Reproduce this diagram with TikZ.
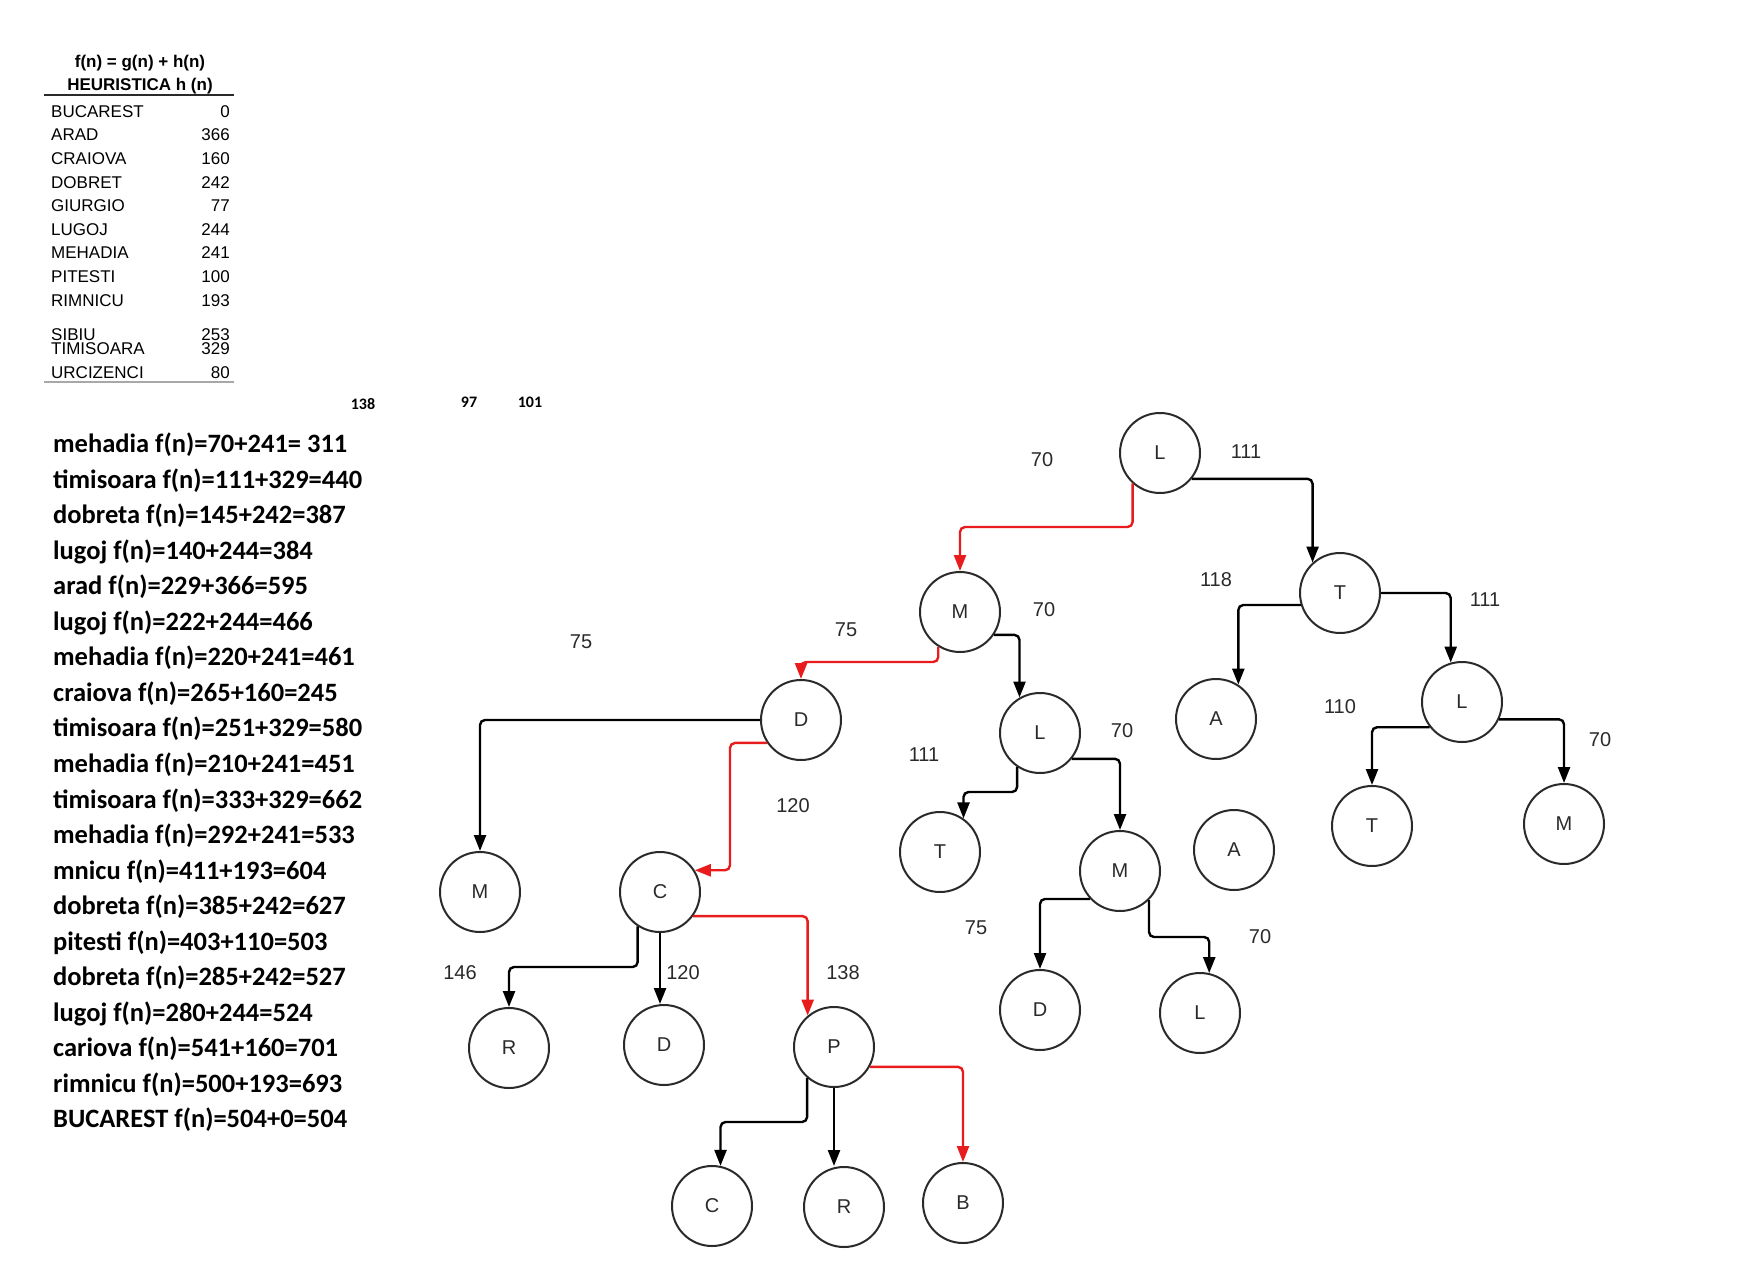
\documentclass[tikz,border=0pt]{standalone}
\usepackage{fontspec}
\setmainfont{Liberation Sans}
\newfontfamily\calib{Carlito}
\usetikzlibrary{arrows.meta}
\definecolor{ink}{HTML}{2A2A2A}
\definecolor{redline}{RGB}{232,28,28}
\definecolor{rule}{HTML}{A8A8A8}
\begin{document}
\begin{tikzpicture}[x=1pt,y=-1pt,
  city/.style={circle,draw=ink,line width=2pt,minimum size=80pt,inner sep=0pt,
    font=\fontsize{20}{24}\selectfont,text=ink},
  edge/.style={line width=2.4pt,rounded corners=5pt,-{Triangle[length=16pt,width=12pt]}},
  redge/.style={edge,draw=redline,color=redline},
  lab/.style={font=\fontsize{20}{24}\selectfont,text=ink,inner sep=0pt},
  tab/.style={font=\fontsize{17}{20}\selectfont,inner sep=0pt},
  tabb/.style={font=\fontsize{17}{20}\selectfont\bfseries,inner sep=0pt},
  fl/.style={font=\calib\bfseries\fontsize{26.5}{32}\selectfont,inner sep=0pt,anchor=base west},
  top/.style={font=\calib\bfseries\fontsize{16}{19}\selectfont,inner sep=0pt,anchor=base}]
\useasboundingbox (0,0) rectangle (1760,1287);

% heuristic table
\node[tabb,anchor=base] (h1) at (140,68) {f(n) = g(n) + h(n)};
\node[tabb,anchor=base] (h2) at (140,91) {HEURISTICA h (n)};
\draw[line width=2pt,ink] (44,95) -- (234,95);
\node[tab,anchor=base west] (n1) at (51,117.3) {BUCAREST};
\node[tab,anchor=base east] (v1) at (230,117.3) {0};
\node[tab,anchor=base west] (n2) at (51,140.9) {ARAD};
\node[tab,anchor=base east] (v2) at (230,140.9) {366};
\node[tab,anchor=base west] (n3) at (51,164.5) {CRAIOVA};
\node[tab,anchor=base east] (v3) at (230,164.5) {160};
\node[tab,anchor=base west] (n4) at (51,188.1) {DOBRET};
\node[tab,anchor=base east] (v4) at (230,188.1) {242};
\node[tab,anchor=base west] (n5) at (51,211.7) {GIURGIO};
\node[tab,anchor=base east] (v5) at (230,211.7) {77};
\node[tab,anchor=base west] (n6) at (51,235.3) {LUGOJ};
\node[tab,anchor=base east] (v6) at (230,235.3) {244};
\node[tab,anchor=base west] (n7) at (51,258.9) {MEHADIA};
\node[tab,anchor=base east] (v7) at (230,258.9) {241};
\node[tab,anchor=base west] (n8) at (51,282.5) {PITESTI};
\node[tab,anchor=base east] (v8) at (230,282.5) {100};
\node[tab,anchor=base west] (n9) at (51,306.1) {RIMNICU};
\node[tab,anchor=base east] (v9) at (230,306.1) {193};
\node[tab,anchor=base west] (n10) at (51,340.5) {SIBIU};
\node[tab,anchor=base east] (v10) at (230,340.5) {253};
\node[tab,anchor=base west] (n11) at (51,354.5) {TIMISOARA};
\node[tab,anchor=base east] (v11) at (230,354.5) {329};
\node[tab,anchor=base west] (n12) at (51,378.2) {URCIZENCI};
\node[tab,anchor=base east] (v12) at (230,378.2) {80};
\draw[line width=2pt,rule] (44,382) -- (234,382);

% top numbers
\node[top] (t138) at (363,409) {138};
\node[top] (t97) at (469,407) {97};
\node[top] (t101) at (530,407) {101};

% f(n) list
\node[fl] (f0) at (53,452.5) {mehadia f(n)=70+241= 311};
\node[fl] (f1) at (53,488.05) {timisoara f(n)=111+329=440};
\node[fl] (f2) at (53,523.6) {dobreta f(n)=145+242=387};
\node[fl] (f3) at (53,559.15) {lugoj f(n)=140+244=384};
\node[fl] (f4) at (53,594.7) {arad f(n)=229+366=595};
\node[fl] (f5) at (53,630.25) {lugoj f(n)=222+244=466};
\node[fl] (f6) at (53,665.8) {mehadia f(n)=220+241=461};
\node[fl] (f7) at (53,701.35) {craiova f(n)=265+160=245};
\node[fl] (f8) at (53,736.9) {timisoara f(n)=251+329=580};
\node[fl] (f9) at (53,772.45) {mehadia f(n)=210+241=451};
\node[fl] (f10) at (53,808) {timisoara f(n)=333+329=662};
\node[fl] (f11) at (53,843.55) {mehadia f(n)=292+241=533};
\node[fl] (f12) at (53,879.1) {mnicu f(n)=411+193=604};
\node[fl] (f13) at (53,914.65) {dobreta f(n)=385+242=627};
\node[fl] (f14) at (53,950.2) {pitesti f(n)=403+110=503};
\node[fl] (f15) at (53,985.75) {dobreta f(n)=285+242=527};
\node[fl] (f16) at (53,1021.3) {lugoj f(n)=280+244=524};
\node[fl] (f17) at (53,1056.85) {cariova f(n)=541+160=701};
\node[fl] (f18) at (53,1092.4) {rimnicu f(n)=500+193=693};
\node[fl] (f19) at (53,1127.95) {BUCAREST f(n)=504+0=504};

% tree nodes
\node[city] (L1) at (1160,453) {L};
\node[city] (M1) at (960,612) {M};
\node[city] (T1) at (1340,593) {T};
\node[city] (D1) at (801,720) {D};
\node[city] (L2) at (1040,733) {L};
\node[city] (A1) at (1216,719) {A};
\node[city] (L3) at (1462,702) {L};
\node[city] (M2) at (480,892) {M};
\node[city] (C1) at (660,892) {C};
\node[city] (T2) at (940,852) {T};
\node[city] (M3) at (1120,871) {M};
\node[city] (A2) at (1234,850) {A};
\node[city] (T3) at (1372,826) {T};
\node[city] (M4) at (1564,824) {M};
\node[city] (R1) at (509,1048) {R};
\node[city] (D2) at (664,1045) {D};
\node[city] (P1) at (834,1047) {P};
\node[city] (D3) at (1040,1010) {D};
\node[city] (L4) at (1200,1013) {L};
\node[city] (C2) at (712,1206) {C};
\node[city] (R2) at (844,1207) {R};
\node[city] (B1) at (963,1203) {B};

% bend helpers
\coordinate (y527) at (0,527);
\coordinate (y662) at (0,662);
\coordinate (x730) at (730,0);
\coordinate (y967) at (0,967);
\coordinate (y1122) at (0,1122);
\coordinate (y792) at (0,792);
\coordinate (y937) at (0,937);

% connectors
\draw[redge] (L1.228) -- (L1.228 |- y527) -| (M1.north);
\draw[edge] (L1.321) -| (T1.132);
\draw[redge] (M1.238) -- (M1.238 |- y662) -| (D1.north);
\draw[edge] (M1.326) -| (L2.120);
\draw[edge] (D1.west) -| (M2.north);
\draw[redge] (D1.214) -| (x730 |- C1.32) -- (C1.32);
\draw[edge] (C1.237) -- (C1.237 |- y967) -| (R1.north);
\draw[edge] (C1.south) -- (C1.south |- D2.north);
\draw[redge] (C1.324) -| (P1.130);
\draw[edge] (P1.229) -- (P1.229 |- y1122) -| (C2.78);
\draw[edge] (P1.south) -- (P1.south |- R2.north);
\draw[redge] (P1.331) -| (B1.north);
\draw[edge] (L2.236) -- (L2.236 |- y792) -| (T2.55);
\draw[edge] (L2.321) -| (M3.north);
\draw[edge] (T1.197) -| (A1.57);
\draw[edge] (T1.east) -| (L3.106);
\draw[edge] (L3.218) -| (T3.north);
\draw[edge] (L3.335) -| (M4.north);
\draw[edge] (M3.223) -| (D3.north);
\draw[edge] (M3.315) -- (M3.315 |- y937) -| (L4.77);

% edge labels
\node[lab] (w1) at (1042,460) {70};
\node[lab] (w2) at (1246,452) {111};
\node[lab] (w3) at (1216,580) {118};
\node[lab] (w4) at (1044,610) {70};
\node[lab] (w5) at (1485,600) {111};
\node[lab] (w6) at (1340,707) {110};
\node[lab] (w7) at (1600,740) {70};
\node[lab] (w8) at (846,630) {75};
\node[lab] (w9) at (581,642) {75};
\node[lab] (w10) at (793,806) {120};
\node[lab] (w11) at (924,755) {111};
\node[lab] (w12) at (1122,731) {70};
\node[lab] (w13) at (460,973) {146};
\node[lab] (w14) at (683,973) {120};
\node[lab] (w15) at (843,973) {138};
\node[lab] (w16) at (976,928) {75};
\node[lab] (w17) at (1260,937) {70};
\end{tikzpicture}
\end{document}
